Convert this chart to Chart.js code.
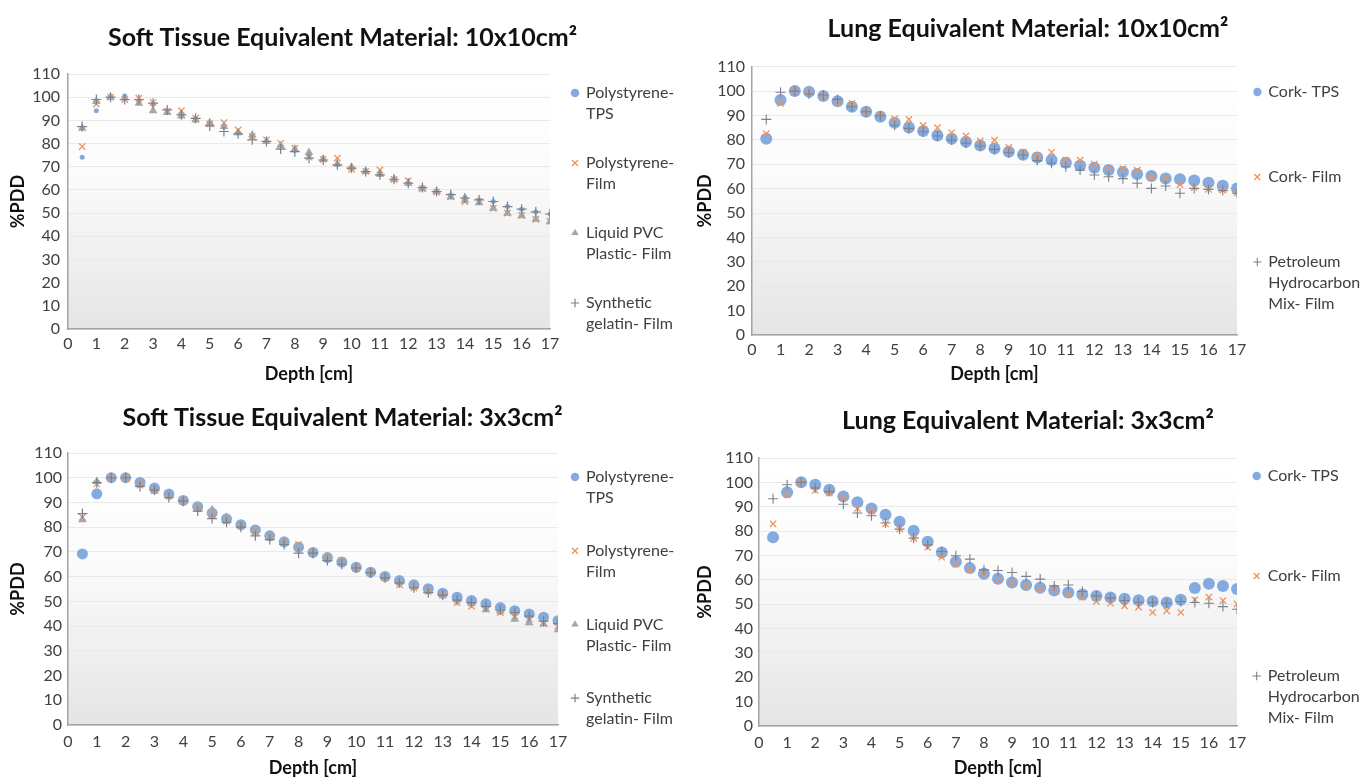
<!DOCTYPE html>
<html><head><meta charset="utf-8">
<script src="https://cdn.jsdelivr.net/npm/chart.js@4.4.1/dist/chart.umd.min.js"></script>
<style>
html,body{margin:0;padding:0;background:#fff;}
#wrap{position:relative;width:1371px;height:779px;overflow:hidden;background:#fff;}
canvas{position:absolute;display:block;}
</style></head><body>
<div id="wrap">
<canvas id="c1" width="685" height="390" style="left:0;top:0"></canvas>
<canvas id="c2" width="686" height="390" style="left:685px;top:0"></canvas>
<canvas id="c3" width="685" height="389" style="left:0;top:390px"></canvas>
<canvas id="c4" width="686" height="389" style="left:685px;top:390px"></canvas>
</div>
<script>
// ---------- DATA ----------
const depth = [0.5,1,1.5,2,2.5,3,3.5,4,4.5,5,5.5,6,6.5,7,7.5,8,8.5,9,9.5,10,10.5,11,11.5,12,12.5,13,13.5,14,14.5,15,15.5,16,16.5,17];

const titles = ["Soft Tissue Equivalent Material: 10x10cm\u00b2","Lung Equivalent Material: 10x10cm\u00b2","Soft Tissue Equivalent Material: 3x3cm\u00b2","Lung Equivalent Material: 3x3cm\u00b2"];
const xTitle = "Depth [cm]";
const yTitle = "%PDD";

const softLabels = [["Polystyrene-","TPS"],["Polystyrene-","Film"],["Liquid PVC","Plastic- Film"],["Synthetic","gelatin- Film"]];
const lungLabels = [["Cork- TPS"],["Cork- Film"],["Petroleum","Hydrocarbon","Mix- Film"]];

// Soft tissue 10x10
const soft10_tps  = [74.1,94.2,100,100.5,98.5,97,94,92.5,90.8,88.5,87,84.5,83,80.8,78.8,77,74.8,73,70.8,69.6,67.9,66.8,64.6,62.9,60.7,59.3,57.8,56.8,55.7,55.0,52.8,51.7,50.5,49.6];
const soft10_film = [78.7,97,100,99,99.6,97.8,94,94.2,91,88.5,89,85.9,83,81.6,80.1,78,74.1,73.2,73.7,68.9,68,68.6,64.5,64,60.5,59,57,55,55,52,50,49,47.3,46.5];
const soft10_pvc  = [86.6,98.1,100,99.6,97.4,94.2,93.4,91.9,90.2,89.1,87.3,84.7,83.7,80.9,79,77.6,76.1,73.2,71.2,69.8,67.9,66.8,64.6,62.9,60.7,59.3,57,55.5,54.5,52.1,49.9,48.8,47.3,46.3];
const soft10_gel  = [87.3,99,100,99,99,97.4,94.5,92.4,90.9,87.6,85.2,84.2,81.6,80.9,77.6,76.5,73.7,72.9,70.8,69.4,67.9,66.5,64.6,62.9,61,59.3,58,56.5,55.7,55,52.8,51.7,50.5,49.6];

// Lung 10x10
const lung10_tps  = [80.5,96.3,100,99.7,98,95.8,93.6,91.5,89.5,87,85.1,83.6,81.8,80.5,79.2,77.7,76.5,75.1,73.9,72.8,71.7,70.6,69.5,68.6,67.6,66.8,66,65.2,64.2,63.9,63.3,62.4,61.2,60.1];
const lung10_film = [82.6,95,100,99.5,98,95.2,95,91.5,90.2,88.7,88.4,85.9,85,82.9,81.6,79.6,79.9,76.9,75,73.5,74.9,71.7,71.7,70,68.3,68.2,67.6,64.6,64.1,61.7,60.4,59.7,59.4,58.3];
const lung10_pet  = [88.4,99.5,100,98.8,98.4,96.6,93.6,91.5,89.9,86,84.7,83.3,81.6,79.9,78.6,77.5,76.1,74.7,73.8,71.5,70.4,69,67.6,65.6,64.9,64.1,62.2,60.1,61.1,58.1,60.1,59.7,59.2,58.1];

// Soft tissue 3x3
const soft3_tps  = [69.2,93.5,100,100,98.1,95.8,93.4,90.8,88.3,85.7,83.4,81,78.9,76.5,74.1,71.9,69.8,67.7,65.9,63.8,61.8,60.1,58.4,56.7,55.1,53.3,51.7,50.3,49,47.5,46.2,44.9,43.6,42.2];
const soft3_film = [84,97.5,100,100,97,95,92.5,90.5,87.5,85,82.5,80.5,78,76,74,73,70,68,66.5,63.5,62,59.5,56.7,55.5,54,52.5,49.5,48,47,45.5,44,43,41,40];
const soft3_pvc  = [83,98.5,100,100,97.5,94.5,93,90.5,88.5,87,84,80.5,79,76,73.5,72,70,68,66,63.5,62,59.5,58,56,54.5,52.5,50.5,49,46.6,46,42.8,41.4,40.8,38.5];
const soft3_gel  = [85.5,98,100,100,96.5,95,92,90.5,86.5,83.5,82,80,76.5,75,73,69.5,69.5,66.5,65,63.5,61.5,59.5,57.5,55.5,53.5,52.5,50.5,49.5,48,46.5,45.5,44,42,41];

// Lung 3x3
const lung3_tps  = [77.5,95.9,100,99,97,94.2,91.8,89.3,86.7,83.8,80.1,75.6,71.2,67.4,64.8,62.5,60.4,58.9,57.9,56.7,55.6,54.8,54,53.4,52.7,52.2,51.6,51.2,50.7,51.8,56.6,58.4,57.5,56.2];
const lung3_film = [83,94.9,100,96.7,95.6,93.6,89.3,88.1,83,80.8,77,73.4,69.3,66.4,64.1,62.5,59.7,58.6,57.3,56.2,55.9,53.8,52.9,51.1,50.4,49.3,48.8,46.6,47.3,46.6,51.8,52.9,51.5,50.1];
const lung3_pet  = [93.3,99,100,97.7,96.2,91,87.4,86.3,83.3,80.8,77.1,74.4,71.6,69.9,68.5,64.1,63.8,63,61.4,60.3,57.5,57.9,55.2,53.4,52.5,51.5,50.8,50.7,50.4,51.1,50.7,50.4,49,47.9];

// ---------- STYLE ----------
const F = "Lato, 'Open Sans', sans-serif";
const BLUE = '#84abdf', ORANGE = '#f0925a', GREY = '#a6a6a6', CROSS = '#7b828c';
const SP = '                                        ';

const bgPlugin = {
  id: 'plotBg',
  beforeDraw(chart) {
    const a = chart.chartArea, ctx = chart.ctx;
    const g = ctx.createLinearGradient(0, a.top, 0, a.bottom);
    g.addColorStop(0, '#ffffff');
    g.addColorStop(0.4, '#fbfbfb');
    g.addColorStop(1, '#e5e5e5');
    ctx.save(); ctx.fillStyle = g; ctx.fillRect(a.left, a.top, a.right - a.left, a.bottom - a.top); ctx.restore();
  }
};

function build(id, title, series, labels, lay) {
  const n = series.length;
  const datasets = series.map((s, i) => ({
    label: labels[i].join(' '),
    data: depth.map((d, k) => ({x: d, y: s.values[k]})),
    pointStyle: s.style, pointRadius: s.r, pointHoverRadius: s.r,
    backgroundColor: s.color, borderColor: s.color, borderWidth: s.bw,
    showLine: false, order: n - i
  }));
  const legendText = labels.map((l, i) => {
    const t = l.slice();
    for (let k = 0; k < lay.extra[i]; k++) t.push(SP);
    return t;
  });
  new Chart(document.getElementById(id), {
    type: 'scatter',
    data: {datasets},
    plugins: [bgPlugin],
    options: {
      responsive: false, animation: false, devicePixelRatio: 1,
      layout: {padding: 0, autoPadding: false},
      events: [],
      plugins: {
        tooltip: {enabled: false},
        title: {display: true, text: title, color: '#111', fullSize: true,
          font: {family: F, size: 25, weight: 'bold', lineHeight: 1.2},
          padding: {top: lay.tTop, bottom: lay.tBot}},
        legend: {
          display: true, position: 'right', align: 'start', fullSize: true, maxWidth: lay.legW,
          title: {display: true, text: '', font: {size: 1, lineHeight: 1}, padding: {top: lay.legT - 1, bottom: 0}},
          labels: {
            usePointStyle: true, boxWidth: 6, boxHeight: 6, padding: lay.legP,
            color: '#404040', font: {family: F, size: 16, lineHeight: '21px'},
            sort: (a, b) => a.datasetIndex - b.datasetIndex,
            generateLabels(chart) {
              const items = Chart.defaults.plugins.legend.labels.generateLabels(chart);
              items.forEach(it => { it.text = legendText[it.datasetIndex]; });
              return items;
            }
          }
        }
      },
      scales: {
        x: {type: 'linear', min: 0, max: 17, position: 'bottom',
          ticks: {stepSize: 1, color: '#404040', font: {family: F, size: 16}, padding: lay.xTickPad, maxRotation: 0, autoSkip: false},
          grid: {display: false, drawTicks: false},
          border: {display: true, color: '#a3a3a3', width: 1.5},
          title: {display: true, text: xTitle, color: '#111', font: {family: F, size: 18, weight: 'bold'}, padding: {top: 0, bottom: lay.xTitlePad}},
          afterFit(s) { s.height = lay.xH; }
        },
        y: {type: 'linear', min: 0, max: 110, position: 'left',
          ticks: {stepSize: 10, color: '#404040', font: {family: F, size: 16}, padding: lay.yTickPad},
          grid: {color: '#e9e9e9', lineWidth: 1, drawTicks: false},
          border: {display: true, color: '#a3a3a3', width: 1.5},
          title: {display: true, text: yTitle, color: '#111', font: {family: F, size: 18, weight: 'bold'}, padding: {top: lay.yTitlePad, bottom: 0}},
          afterFit(s) { s.width = lay.yW; }
        },
        gap: {type: 'linear', position: 'right', display: true,
          ticks: {display: false}, grid: {display: false, drawTicks: false}, border: {display: false},
          afterFit(s) { s.width = lay.G; }
        }
      }
    }
  });
}

build('c1', titles[0], [
  {values: soft10_tps, style: 'circle', r: 2.5, color: BLUE, bw: 0},
  {values: soft10_film, style: 'crossRot', r: 4.5, color: ORANGE, bw: 1.3},
  {values: soft10_pvc, style: 'triangle', r: 5, color: GREY, bw: 0},
  {values: soft10_gel, style: 'cross', r: 5, color: CROSS, bw: 1.2}
], softLabels, {tTop: 23, tBot: 21, xH: 61, xTickPad: 5.4, xTitlePad: 5.2, yW: 68, yTickPad: 8, yTitlePad: 7.2,
  G: 15, legW: 120, legP: 7, legT: 78, extra: [1,1,1,0]});

build('c2', titles[1], [
  {values: lung10_tps, style: 'circle', r: 6, color: BLUE, bw: 0},
  {values: lung10_film, style: 'crossRot', r: 4.5, color: ORANGE, bw: 1.3},
  {values: lung10_pet, style: 'cross', r: 5, color: CROSS, bw: 1.1}
], lungLabels, {tTop: 14, tBot: 22.7, xH: 55, xTickPad: 5.4, xTitlePad: 5.2, yW: 67, yTickPad: 7, yTitlePad: 9.2,
  G: 16.3, legW: 117.7, legP: 1, legT: 83, extra: [3,3,0]});

build('c3', titles[2], [
  {values: soft3_tps, style: 'circle', r: 5.5, color: BLUE, bw: 0},
  {values: soft3_film, style: 'crossRot', r: 4.5, color: ORANGE, bw: 1.3},
  {values: soft3_pvc, style: 'triangle', r: 5, color: GREY, bw: 0},
  {values: soft3_gel, style: 'cross', r: 5, color: CROSS, bw: 1.2}
], softLabels, {tTop: 13, tBot: 20, xH: 54, xTickPad: 6.9, xTitlePad: 0.2, yW: 68, yTickPad: 6, yTitlePad: 7.2,
  G: 3.3, legW: 123.7, legP: 10.7, legT: 68.3, extra: [1,1,1,0]});

build('c4', titles[3], [
  {values: lung3_tps, style: 'circle', r: 6, color: BLUE, bw: 0},
  {values: lung3_film, style: 'crossRot', r: 4.5, color: ORANGE, bw: 1.3},
  {values: lung3_pet, style: 'cross', r: 5, color: CROSS, bw: 1.1}
], lungLabels, {tTop: 16, tBot: 22, xH: 53, xTickPad: 6.9, xTitlePad: 0.2, yW: 74, yTickPad: 6, yTitlePad: 9.2,
  G: 0.7, legW: 133.3, legP: 16, legT: 62, extra: [3,3,0]});
</script>
</body></html>
